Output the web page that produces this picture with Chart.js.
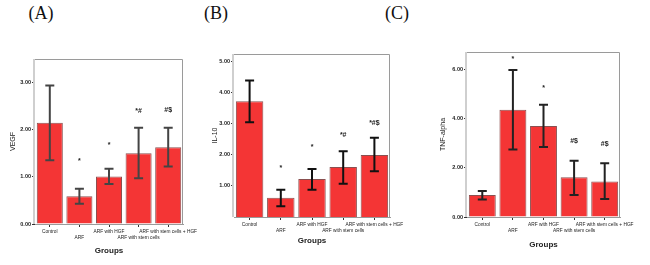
<!DOCTYPE html>
<html>
<head>
<meta charset="utf-8">
<script src="https://cdn.jsdelivr.net/npm/chart.js@4.4.1/dist/chart.umd.min.js"></script>
<style>
  body { margin: 0; background: #fff; }
  #wrap { position: relative; width: 650px; height: 265px; overflow: hidden; }
  canvas { position: absolute; }
  .panel { position: absolute; top: 3px; font-family: "Liberation Serif", serif; font-size: 18px; color: #111; transform: translateX(-50%); }
</style>
</head>
<body>
<div id="wrap">
  <div class="panel" style="left:41px">(A)</div>
  <div class="panel" style="left:216px">(B)</div>
  <div class="panel" style="left:397px">(C)</div>
  <canvas id="chartA" style="left:0px;top:40px" width="215" height="225"></canvas>
  <canvas id="chartB" style="left:205px;top:40px" width="215" height="225"></canvas>
  <canvas id="chartC" style="left:432px;top:40px" width="218" height="225"></canvas>
</div>
<script>
const groups = ["Control", "ARF", "ARF with HGF", "ARF with stem cells", "ARF with stem cells + HGF"];

const vegfMean = [2.15, 0.59, 1.01, 1.50, 1.63];
const vegfLow = [1.35, 0.43, 0.85, 0.97, 1.22];
const vegfHigh = [2.94, 0.75, 1.17, 2.04, 2.04];
const vegfMarks = ["", "*", "*", "*#", "#$"];
const vegfMarkAt = [null, 1.34, 1.68, 2.40, 2.42];
const vegfTicks = [0, 1, 2, 3];

const il10Mean = [3.73, 0.62, 1.22, 1.61, 2.00];
const il10Low = [3.05, 0.35, 0.88, 1.07, 1.47];
const il10High = [4.40, 0.88, 1.55, 2.12, 2.55];
const il10Marks = ["", "*", "*", "*#", "*#$"];
const il10MarkAt = [null, 1.58, 2.25, 2.65, 3.03];
const il10Ticks = [1, 2, 3, 4, 5];

const tnfMean = [0.89, 4.35, 3.70, 1.61, 1.44];
const tnfLow = [0.71, 2.74, 2.84, 0.89, 0.73];
const tnfHigh = [1.06, 5.97, 4.56, 2.28, 2.18];
const tnfMarks = ["", "*", "*", "#$", "#$"];
const tnfMarkAt = [null, 6.4, 5.25, 3.1, 2.97];
const tnfTicks = [0, 2, 4, 6];

// staggered category labels, like the original SPSS output
const staggered = groups.map((g, i) => i % 2 === 1 ? ["", g] : [g]);

const errorBars = {
    id: "errorBars",
    afterDatasetsDraw(chart, args, opts) {
        const ctx = chart.ctx;
        const meta = chart.getDatasetMeta(0);
        const y = chart.scales.y;
        const area = chart.chartArea;

        // frame round the plot
        ctx.save();
        ctx.strokeStyle = "#9a9a9a";
        ctx.lineWidth = 1;
        ctx.beginPath();
        ctx.moveTo(area.left, area.top + 0.5);
        ctx.lineTo(area.right - 0.5, area.top + 0.5);
        ctx.lineTo(area.right - 0.5, area.bottom);
        ctx.stroke();
        ctx.strokeStyle = "#cfcfcf";
        ctx.lineWidth = 2;
        ctx.beginPath();
        ctx.moveTo(area.left - 1, area.top);
        ctx.lineTo(area.left - 1, area.bottom);
        ctx.stroke();

        ctx.strokeStyle = opts.color;
        ctx.lineWidth = 2;
        meta.data.forEach((bar, i) => {
            const yh = y.getPixelForValue(opts.high[i]);
            const yl = y.getPixelForValue(opts.low[i]);
            ctx.beginPath();
            ctx.moveTo(bar.x, yh);
            ctx.lineTo(bar.x, yl);
            ctx.moveTo(bar.x - 4.5, yh);
            ctx.lineTo(bar.x + 4.5, yh);
            ctx.moveTo(bar.x - 4.5, yl);
            ctx.lineTo(bar.x + 4.5, yl);
            ctx.stroke();
        });

        ctx.fillStyle = "#222";
        ctx.font = "bold 7px Arial";
        ctx.textAlign = "center";
        ctx.textBaseline = "middle";
        meta.data.forEach((bar, i) => {
            if (opts.marks[i]) {
                ctx.fillText(opts.marks[i], bar.x, y.getPixelForValue(opts.markAt[i]));
            }
        });
        ctx.restore();
    }
};

function makeChart(id, p) {
    return new Chart(document.getElementById(id), {
        type: "bar",
        data: {
            labels: staggered,
            datasets: [{
                data: p.mean,
                backgroundColor: "#f43535",
                borderColor: "#8a5050",
                borderWidth: 1,
                barPercentage: 0.88,
                categoryPercentage: 1
            }]
        },
        plugins: [errorBars],
        options: {
            responsive: false,
            animation: false,
            events: [],
            layout: {
                padding: p.pad
            },
            plugins: {
                legend: { display: false },
                tooltip: { enabled: false },
                errorBars: {
                    low: p.low,
                    high: p.high,
                    marks: p.marks,
                    markAt: p.markAt,
                    color: p.whisker
                }
            },
            scales: {
                x: {
                    afterFit(scale) { scale.height = p.xHeight; },
                    border: { color: "#9a9a9a", width: 1 },
                    grid: {
                        offset: false,
                        drawOnChartArea: false,
                        tickLength: 3,
                        color: "#333"
                    },
                    ticks: {
                        autoSkip: false,
                        maxRotation: 0,
                        minRotation: 0,
                        padding: 2,
                        color: "#222",
                        font: { family: "Arial", size: 4.8, lineHeight: 1.25 }
                    },
                    title: {
                        display: true,
                        text: "Groups",
                        color: "#222",
                        font: { family: "Arial", size: 8, weight: "bold" },
                        padding: { top: 0, bottom: p.groupsPad }
                    }
                },
                y: {
                    min: 0,
                    max: p.max,
                    afterFit(scale) { scale.width = p.yWidth; },
                    afterBuildTicks(scale) {
                        scale.ticks = p.ticks.map(v => ({ value: v }));
                    },
                    border: { display: false },
                    grid: {
                        drawOnChartArea: false,
                        tickLength: 3,
                        color: "#333"
                    },
                    ticks: {
                        padding: 1,
                        color: "#222",
                        font: { family: "Arial", size: 5.5, weight: "bold" },
                        callback: v => v.toFixed(2)
                    },
                    title: {
                        display: true,
                        text: p.title,
                        color: "#222",
                        font: { family: "Arial", size: 7 },
                        padding: { top: p.titlePad, bottom: 0 }
                    }
                }
            }
        }
    });
}

makeChart("chartA", {
    mean: vegfMean, low: vegfLow, high: vegfHigh,
    marks: vegfMarks, markAt: vegfMarkAt, ticks: vegfTicks,
    max: 3.5, title: "VEGF", whisker: "#444",
    pad: { left: 0, top: 19, right: 32, bottom: 0 },
    xHeight: 41, yWidth: 35, groupsPad: 9, titlePad: 9
});

makeChart("chartB", {
    mean: il10Mean, low: il10Low, high: il10High,
    marks: il10Marks, markAt: il10MarkAt, ticks: il10Ticks,
    max: 5.25, title: "IL-10", whisker: "#111",
    pad: { left: 0, top: 14, right: 30, bottom: 0 },
    xHeight: 48, yWidth: 29, groupsPad: 19, titlePad: 6
});

makeChart("chartC", {
    mean: tnfMean, low: tnfLow, high: tnfHigh,
    marks: tnfMarks, markAt: tnfMarkAt, ticks: tnfTicks,
    max: 6.7, title: "TNF-alpha", whisker: "#222",
    pad: { left: 0, top: 12, right: 30, bottom: 0 },
    xHeight: 48, yWidth: 35, groupsPad: 15, titlePad: 7
});
</script>
</body>
</html>
